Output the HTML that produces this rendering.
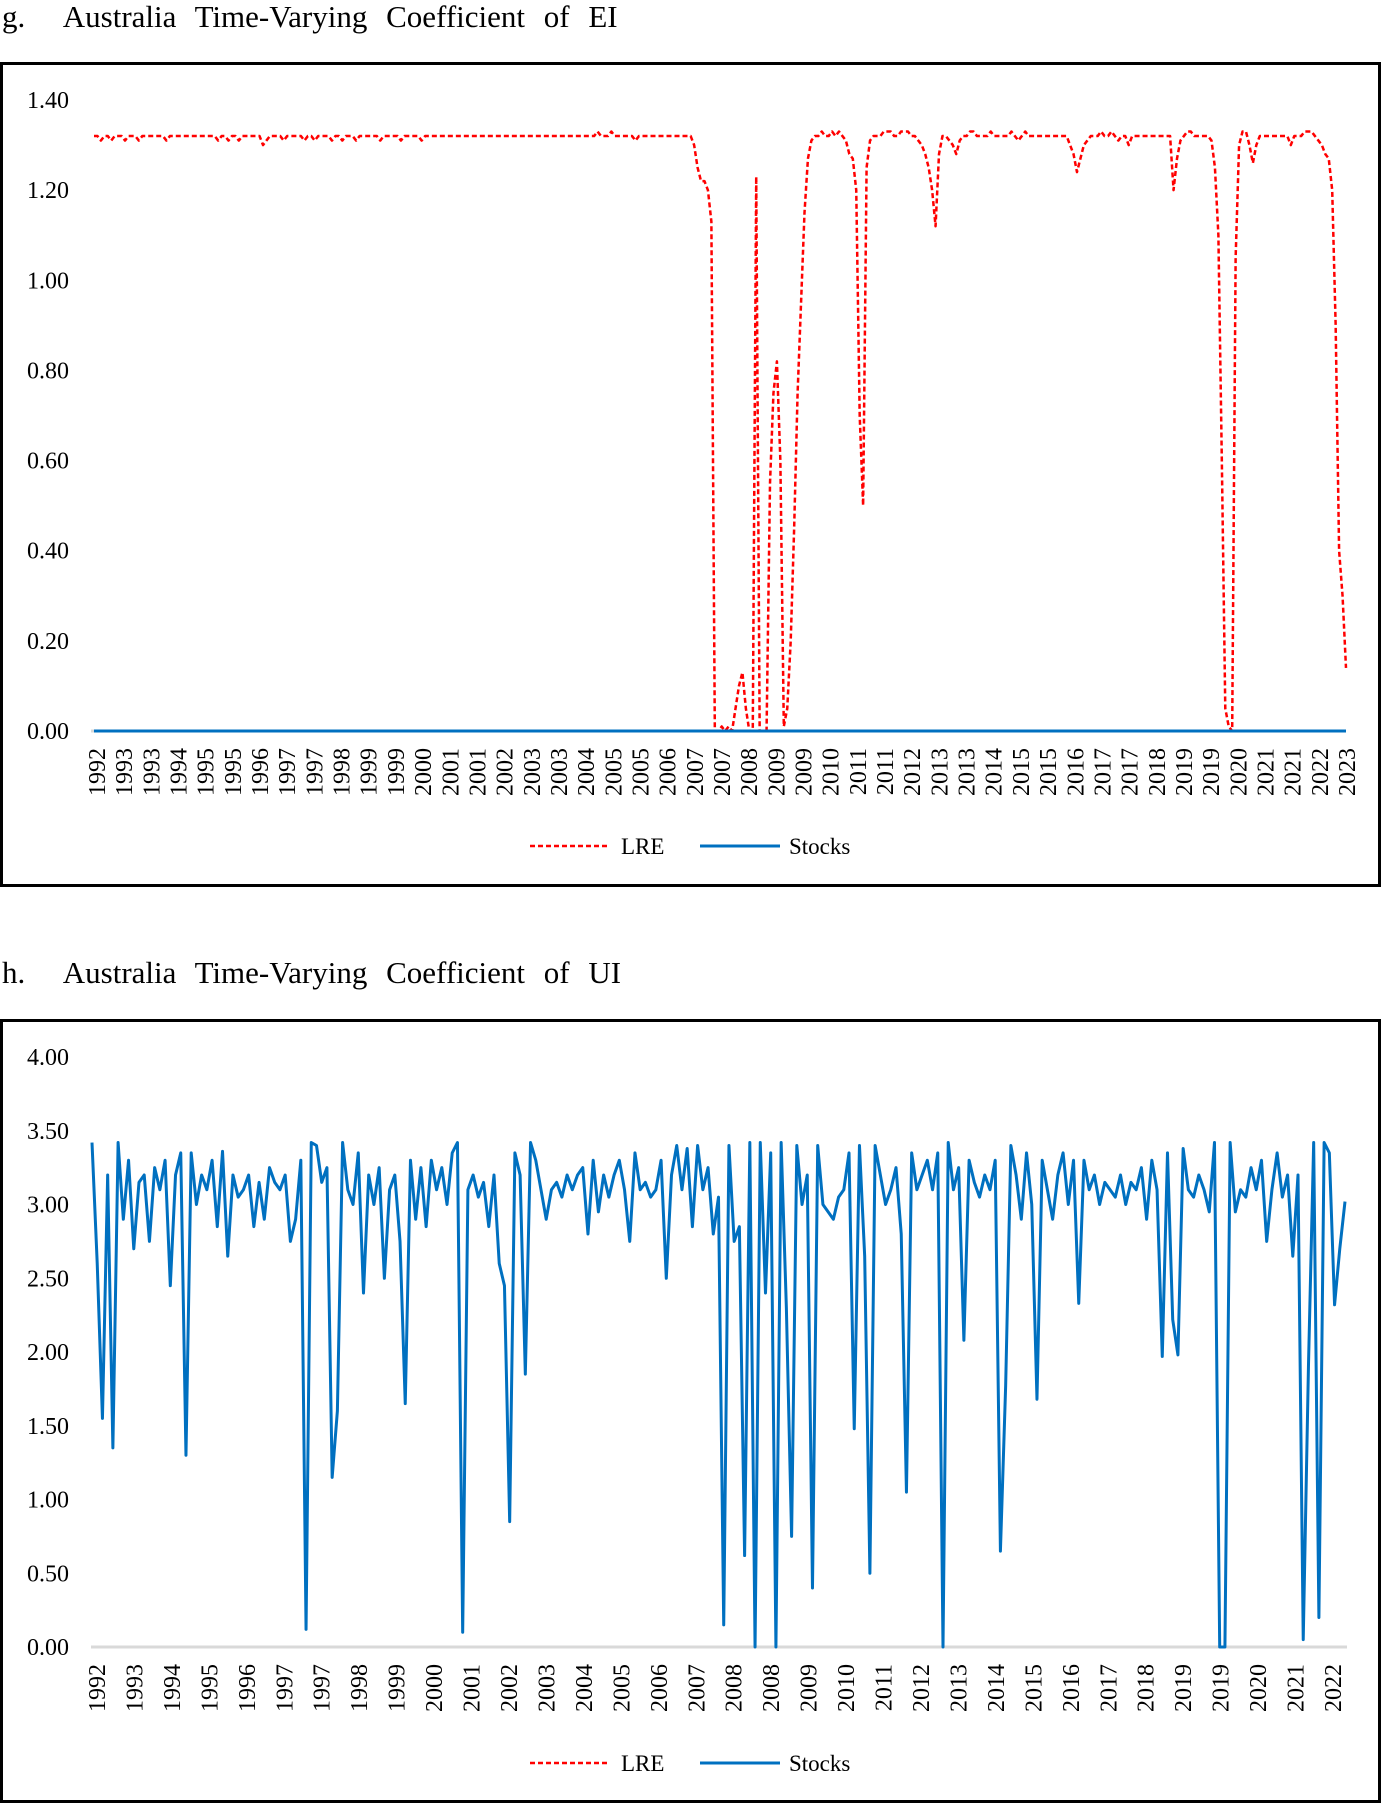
<!DOCTYPE html>
<html><head><meta charset="utf-8"><title>Australia Time-Varying Coefficients</title>
<style>
html,body{margin:0;padding:0;background:#fff;}
body{width:1382px;height:1804px;overflow:hidden;font-family:"Liberation Serif",serif;}
svg{display:block;}
.ttl{font-size:31px;word-spacing:11px;fill:#000;}
.tick{font-size:24px;fill:#000;}
.leg{font-size:23px;fill:#000;}
</style></head>
<body>
<svg id="chart" width="1382" height="1804" viewBox="0 0 1382 1804" xmlns="http://www.w3.org/2000/svg">
  <text class="ttl" x="2" y="27">g.&#160;&#160;Australia Time-Varying Coefficient of EI</text>
  <rect x="1.5" y="63.5" width="1378" height="822" fill="none" stroke="#000" stroke-width="3"/>
  <g id="gTop"></g>
  <text class="ttl" x="2" y="983">h.&#160;&#160;Australia Time-Varying Coefficient of UI</text>
  <rect x="1.5" y="1020.5" width="1378" height="781" fill="none" stroke="#000" stroke-width="3"/>
  <g id="gBot"></g>
</svg>
<script>
// ---- Chart g (EI) data ----
const eiYTicks = ["0.00","0.20","0.40","0.60","0.80","1.00","1.20","1.40"];
const eiYTickValues = [0,0.2,0.4,0.6,0.8,1.0,1.2,1.4];
const eiXLabels = ["1992","1993","1993","1994","1995","1995","1996","1997","1997","1998","1999","1999","2000","2001","2001","2002","2003","2003","2004","2005","2005","2006","2007","2007","2008","2009","2009","2010","2011","2011","2012","2013","2013","2014","2015","2015","2016","2017","2017","2018","2019","2019","2020","2021","2021","2022","2023"];
const eiLRE = [
1.32,1.32,1.31,1.32,1.32,1.31,1.32,1.32,1.32,1.31,1.32,1.32,1.32,1.31,1.32,1.32,1.32,1.32,1.32,1.32,
1.32,1.31,1.32,1.32,1.32,1.32,1.32,1.32,1.32,1.32,1.32,1.32,1.32,1.32,1.32,1.32,1.31,1.32,1.32,1.31,
1.32,1.32,1.31,1.32,1.32,1.32,1.32,1.32,1.32,1.30,1.31,1.32,1.32,1.32,1.32,1.31,1.32,1.32,1.32,1.32,
1.32,1.31,1.32,1.32,1.31,1.32,1.32,1.32,1.32,1.31,1.32,1.32,1.31,1.32,1.32,1.32,1.31,1.32,1.32,1.32,
1.32,1.32,1.32,1.31,1.32,1.32,1.32,1.32,1.32,1.31,1.32,1.32,1.32,1.32,1.32,1.31,1.32,1.32,1.32,1.32,
1.32,1.32,1.32,1.32,1.32,1.32,1.32,1.32,1.32,1.32,1.32,1.32,1.32,1.32,1.32,1.32,1.32,1.32,1.32,1.32,
1.32,1.32,1.32,1.32,1.32,1.32,1.32,1.32,1.32,1.32,1.32,1.32,1.32,1.32,1.32,1.32,1.32,1.32,1.32,1.32,
1.32,1.32,1.32,1.32,1.32,1.32,1.33,1.32,1.32,1.32,1.33,1.32,1.32,1.32,1.32,1.32,1.32,1.31,1.32,1.32,
1.32,1.32,1.32,1.32,1.32,1.32,1.32,1.32,1.32,1.32,1.32,1.32,1.32,
1.32,1.30,1.25,1.22,1.22,1.20,1.13,0.00,0.00,0.01,0.00,0.01,0.00,0.05,0.10,0.13,0.05,0.00,0.00,1.23,
0.00,0.00,0.00,0.55,0.75,0.82,0.60,0.01,0.05,0.20,0.45,0.75,0.95,1.15,1.27,1.31,
1.32,1.32,1.33,1.32,1.32,1.33,1.32,1.33,1.32,1.31,1.28,
1.27,1.20,0.70,0.50,1.25,1.31,
1.32,1.32,1.32,1.33,1.33,1.33,1.32,1.32,1.33,1.33,1.33,1.32,1.32,1.31,1.30,1.28,1.25,
1.20,1.12,1.28,1.32,1.32,1.31,1.30,1.28,1.31,1.32,
1.32,1.33,1.33,1.32,1.32,1.32,1.32,1.33,1.32,1.32,1.32,1.32,1.32,1.33,1.32,1.31,1.32,1.33,1.32,1.32,
1.32,1.32,1.32,1.32,1.32,1.32,1.32,1.32,1.32,1.32,1.30,1.28,1.24,
1.27,1.30,1.31,1.32,1.32,1.32,1.33,1.32,1.32,1.33,1.32,1.31,1.32,1.32,1.30,1.32,1.32,1.32,1.32,1.32,1.32,1.32,1.32,1.32,1.32,1.32,1.32,
1.20,1.27,1.31,1.32,1.33,1.33,1.32,1.32,1.32,1.32,1.32,
1.31,1.25,1.10,0.60,0.05,0.01,0.00,1.05,1.30,1.33,1.33,1.30,1.26,1.30,
1.32,1.32,1.32,1.32,1.32,1.32,1.32,1.32,1.32,1.30,1.32,1.32,1.32,1.33,1.33,1.33,1.32,1.31,
1.30,1.28,1.27,1.20,0.90,0.40,0.30,0.14
];
const eiStocks = new Array(eiLRE.length).fill(0);

// ---- Chart h (UI) data ----
const uiYTicks = ["0.00","0.50","1.00","1.50","2.00","2.50","3.00","3.50","4.00"];
const uiYTickValues = [0,0.5,1,1.5,2,2.5,3,3.5,4];
const uiXLabels = ["1992","1993","1994","1995","1996","1997","1997","1998","1999","2000","2001","2002","2003","2004","2005","2006","2007","2008","2008","2009","2010","2011","2012","2013","2014","2015","2016","2017","2018","2019","2019","2020","2021","2022"];
const uiStocks = [
3.42,2.6,1.55,3.2,1.35,3.42,2.9,3.3,2.7,3.15,
3.2,2.75,3.25,3.1,3.3,2.45,3.2,3.35,1.3,3.35,
3.0,3.2,3.1,3.3,2.85,3.36,2.65,3.2,3.05,3.1,
3.2,2.85,3.15,2.9,3.25,3.15,3.1,3.2,2.75,2.9,
3.3,0.12,3.42,3.4,3.15,3.25,1.15,1.6,3.42,3.1,
3.0,3.35,2.4,3.2,3.0,3.25,2.5,3.1,3.2,2.75,
1.65,3.3,2.9,3.25,2.85,3.3,3.1,3.25,3.0,3.35,
3.42,0.1,3.1,3.2,3.05,3.15,2.85,3.2,2.6,2.45,
0.85,3.35,3.2,1.85,3.42,3.3,3.1,2.9,3.1,3.15,
3.05,3.2,3.1,3.2,3.25,2.8,3.3,2.95,3.2,3.05,
3.2,3.3,3.1,2.75,3.35,3.1,3.15,3.05,3.1,3.3,
2.5,3.2,3.4,3.1,3.38,2.85,3.4,3.1,3.25,2.8,
3.05,0.15,3.4,2.75,2.85,0.62,3.42,0.0,3.42,2.4,
3.35,0.0,3.42,2.3,0.75,3.4,3.0,3.2,0.4,3.4,
3.0,2.95,2.9,3.05,3.1,3.35,1.48,3.4,2.65,0.5,
3.4,3.2,3.0,3.1,3.25,2.8,1.05,3.35,3.1,3.2,
3.3,3.1,3.35,0.0,3.42,3.1,3.25,2.08,3.3,3.15,
3.05,3.2,3.1,3.3,0.65,1.77,3.4,3.2,2.9,3.35,
3.0,1.68,3.3,3.1,2.9,3.2,3.35,3.0,3.3,2.33,
3.3,3.1,3.2,3.0,3.15,3.1,3.05,3.2,3.0,3.15,
3.1,3.25,2.9,3.3,3.1,1.97,3.35,2.22,1.98,3.38,
3.1,3.05,3.2,3.1,2.95,3.42,0.0,0.0,3.42,2.95,
3.1,3.05,3.25,3.1,3.3,2.75,3.1,3.35,3.05,3.2,
2.65,3.2,0.05,1.9,3.42,0.2,3.42,3.35,2.32,2.7,
3.02
];

const NS = "http://www.w3.org/2000/svg";
function mk(tag, attrs, parent){
  const e = document.createElementNS(NS, tag);
  for (const k in attrs) e.setAttribute(k, attrs[k]);
  parent.appendChild(e);
  return e;
}

function drawChart(g, cfg){
  const x0 = cfg.x0, x1 = cfg.x1;
  const yScale = v => cfg.yZero - (v - cfg.yMin) / (cfg.yMax - cfg.yMin) * (cfg.yZero - cfg.yTop);
  const xScale = (i, n) => x0 + i * (x1 - x0) / (n - 1);

  cfg.yTickValues.forEach((v, i) => {
    const t = mk('text', {x: 69, y: yScale(v) + 8, 'text-anchor': 'end', class: 'tick'}, g);
    
    
    t.textContent = cfg.yTicks[i];
  });

  const ax = mk('line', {x1: 91, x2: cfg.axisEnd, y1: yScale(0), y2: yScale(0), stroke: cfg.axisColor, 'stroke-width': 3}, g);
  
  

  const nl = cfg.xLabels.length;
  cfg.xLabels.forEach((lab, i) => {
    const lx = cfg.labX0 + i * (cfg.labX1 - cfg.labX0) / (nl - 1);
    const ly = yScale(0) + 17;
    const t = mk('text', {x: lx, y: ly, transform: 'rotate(-90 ' + lx + ' ' + ly + ')', 'text-anchor': 'end', class: 'tick', dy: '8'}, g);
    
    
    t.textContent = lab;
  });

  function path(vals, color, dash, width, name){
    const n = vals.length;
    let d = '';
    vals.forEach((v, i) => { d += (i ? 'L' : 'M') + xScale(i, n).toFixed(2) + ',' + yScale(v).toFixed(2); });
    const p = mk('path', {d: d, fill: 'none', stroke: color, 'stroke-width': width, 'stroke-linejoin': 'round'}, g);
    if (dash) p.setAttribute('stroke-dasharray', dash);
    
    
  }
  if (cfg.stocks && cfg.stocksFirst) path(cfg.stocks, '#0070C0', null, 3, 'stocks-line');
  if (cfg.lre) path(cfg.lre, '#FF0000', '5,3', 2.5, 'lre-line');
  if (cfg.stocks && !cfg.stocksFirst) path(cfg.stocks, '#0070C0', null, 3, 'stocks-line');

  const ly = cfg.legendY;
  const l1 = mk('line', {x1: 530, x2: 610, y1: ly, y2: ly, stroke: '#FF0000', 'stroke-width': 2.5, 'stroke-dasharray': '5,3'}, g);
  
  
  const t1 = mk('text', {x: 621, y: ly + 8, class: 'leg'}, g);
  
  
  t1.textContent = 'LRE';
  const l2 = mk('line', {x1: 700, x2: 780, y1: ly, y2: ly, stroke: '#0070C0', 'stroke-width': 3}, g);
  
  
  const t2 = mk('text', {x: 789, y: ly + 8, class: 'leg'}, g);
  
  
  t2.textContent = 'Stocks';
}

drawChart(document.getElementById('gTop'), {
  x0: 94, x1: 1346, axisEnd: 1346, yZero: 731, yTop: 100, yMin: 0, yMax: 1.4,
  yTicks: eiYTicks, yTickValues: eiYTickValues, xLabels: eiXLabels,
  labX0: 97, labX1: 1347, lre: eiLRE, stocks: eiStocks, stocksFirst: false,
  axisColor: '#d9d9d9', legendY: 846
});
drawChart(document.getElementById('gBot'), {
  x0: 92, x1: 1345, axisEnd: 1347, yZero: 1647, yTop: 1057, yMin: 0, yMax: 4,
  yTicks: uiYTicks, yTickValues: uiYTickValues, xLabels: uiXLabels,
  labX0: 97, labX1: 1333, lre: null, stocks: uiStocks, stocksFirst: true,
  axisColor: '#d9d9d9', legendY: 1763
});
</script>
</body></html>
